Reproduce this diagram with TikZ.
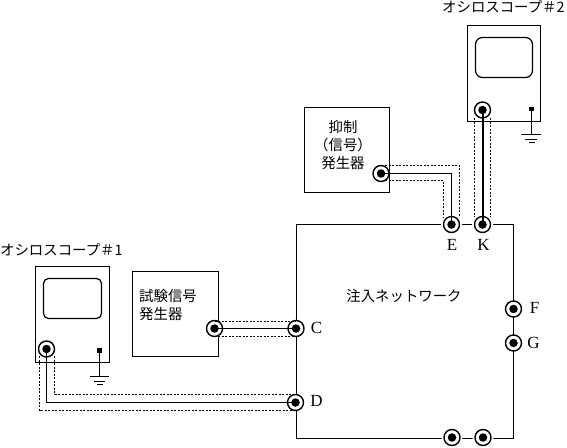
\documentclass[tikz,border=0pt]{standalone}
\usepackage{fontspec}
\newfontfamily\jp{Noto Sans CJK JP}
\setmainfont{Liberation Serif}
\tikzset{
 line width=1.1pt,
 box/.style={draw,fill=none,minimum width=0pt},
 screen/.style={draw,line width=1.2pt},
 ring/.style={circle,draw,fill=white,line width=1.4pt,minimum size=16pt,inner sep=0pt},
 halo/.style={preaction={draw=white,line width=5pt}},
 pin/.style={circle,fill=black,minimum size=8.5pt,inner sep=0pt},
 gdot/.style={fill=black,minimum size=4.5pt,inner sep=0pt},
 jt/.style={font=\jp\fontsize{14.4}{16}\selectfont,inner sep=0pt},
 lt/.style={font=\fontsize{17}{18}\selectfont,inner sep=0pt},
 shield/.style={dash pattern=on 2.2pt off 1.3pt,line width=1pt},
 wire/.style={line width=1.1pt},
}
\begin{document}
\begin{tikzpicture}[x=1pt,y=-1pt]
\useasboundingbox (0,0) rectangle (567,447);
% boxes
\draw[box] (35.5,266.5) rectangle (109.5,362.5);
\draw[screen,rounded corners=5pt] (43.5,278.5) rectangle (101.5,318.5);
\draw[box] (132.5,271.5) rectangle (218.5,356.5);
\draw[box] (304.5,107.5) rectangle (389.5,192.5);
\draw[box] (467.5,25.5) rectangle (540.5,121.5);
\draw[screen,rounded corners=7pt] (475.5,37.5) rectangle (532.5,77.5);
\draw[box] (296.5,224.5) rectangle (513.5,438.5);
% sockets
\node[ring] (s1) at (46.5,349) {};
\node[ring] (g1) at (214.5,328.5) {};
\node[ring] (c) at (296,328.5) {};
\node[ring] (d) at (295.5,402.5) {};
\node[ring] (g2) at (381,173.5) {};
\node[ring] (s2) at (482.5,110) {};
\node[ring,halo] (e) at (451.5,224.5) {};
\node[ring,halo] (k) at (482.5,224.5) {};
\node[ring] (f) at (513.5,309) {};
\node[ring] (g) at (513.5,343) {};
\node[ring,halo] (b1) at (452,437.5) {};
\node[ring,halo] (b2) at (483,437.5) {};
% grounds
\node[gdot] (t1) at (99.5,350.5) {};
\coordinate (e1) at (99.5,376.5);
\draw (t1) -- (e1);
\draw (90,376.5) -- (109,376.5) (94,381.5) -- (105,381.5) (97,384.5) -- (103,384.5);
\node[gdot] (t2) at (531.5,109) {};
\coordinate (e2) at (531.5,134.5);
\draw (t2) -- (e2);
\draw (521,134.5) -- (541,134.5) (525,139.5) -- (537,139.5) (529,142.5) -- (535,142.5);
% wires
\draw[wire] (g1.center) -- (c.center);
\draw[wire] (s1.center) |- (d.center);
\draw[wire] (g2.center) -| (e.center);
\draw[wire,line width=2pt] (s2.center) -- (k.center);
% shields
\draw[shield] (214.5,321.5) -- (296,321.5);
\draw[shield] (214.5,336.5) -- (296,336.5);
\draw[shield] (39.5,356) -- (39.5,410.5) -- (292,410.5);
\draw[shield] (54.5,356) -- (54.5,394.5) -- (292,394.5);
\draw[shield] (385,165.5) -- (459.5,165.5) -- (459.5,217);
\draw[shield] (385,180.5) -- (443.5,180.5) -- (443.5,217);
\draw[shield] (474.5,118) -- (474.5,217);
\draw[shield] (490.5,118) -- (490.5,217);
% pins
\foreach \n in {s1,g1,c,d,g2,s2,e,k,f,g,b1,b2} \node[pin] (p\n) at (\n) {};
% labels
\node[jt,anchor=west] (ls1) at (0,250) {オシロスコープ＃1};
\node[jt,anchor=west] (ls2) at (442,7) {オシロスコープ＃2};
\node[jt,anchor=west,align=left] (lg1) at (139,305) {試験信号\\[1.5pt]発生器};
\node[jt,align=center] (lg2) at (343,145.5) {抑制\\[2pt]（信号）\\[2pt]発生器};
\node[jt] (ln) at (404,296) {注入ネットワーク};
\node[lt] (lc) at (316.5,328) {C};
\node[lt] (ld) at (316.5,401) {D};
\node[lt] (le) at (452,244.5) {E};
\node[lt] (lk) at (483.5,244.5) {K};
\node[lt] (lf) at (534.5,308) {F};
\node[lt] (lg) at (533.5,343) {G};
\end{tikzpicture}
\end{document}
